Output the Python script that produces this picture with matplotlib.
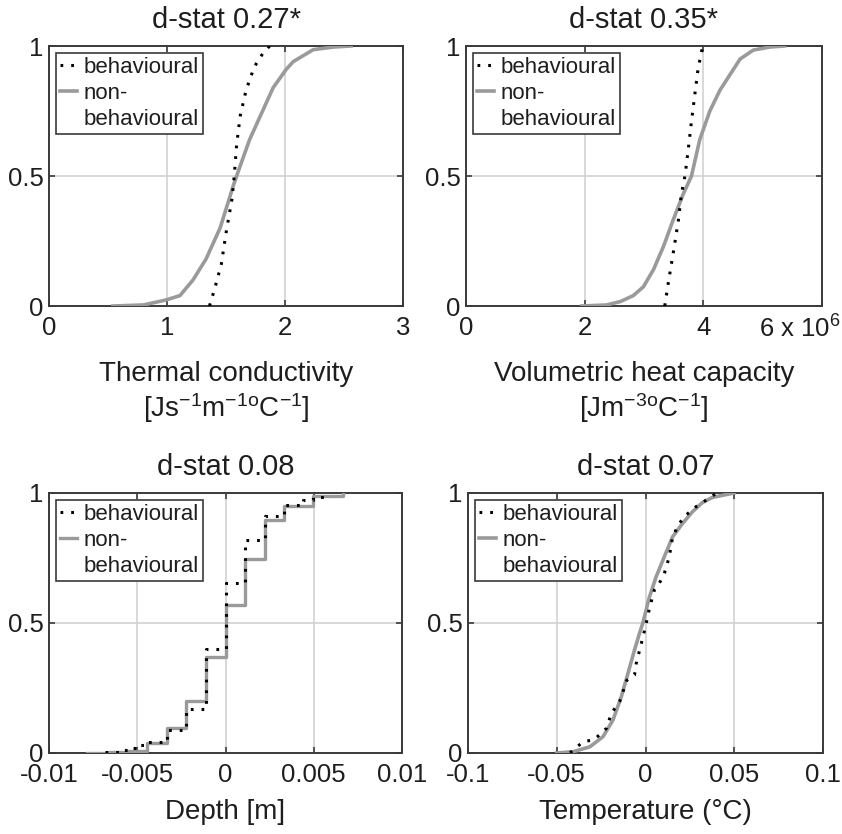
import numpy as np
import matplotlib
matplotlib.use("Agg")
import matplotlib.pyplot as plt
from matplotlib.transforms import ScaledTranslation
from matplotlib.lines import Line2D

plt.rcParams['font.family'] = ['Liberation Sans', 'DejaVu Sans']
plt.rcParams['mathtext.fontset'] = 'custom'
plt.rcParams['mathtext.rm'] = 'Liberation Sans'
plt.rcParams['mathtext.it'] = 'Liberation Sans:italic'
plt.rcParams['mathtext.bf'] = 'Liberation Sans:bold'

# ---------------- data ----------------
titles = ["d-stat 0.27*", "d-stat 0.35*", "d-stat 0.08", "d-stat 0.07"]
xlabels = ["Thermal conductivity\n[Js$^{\\mathregular{-1}}$m$^{\\mathregular{-1o}}$C$^{\\mathregular{-1}}$]",
           "Volumetric heat capacity\n[Jm$^{\\mathregular{-3o}}$C$^{\\mathregular{-1}}$]",
           "Depth [m]",
           "Temperature (\u00b0C)"]
legend_labels = ["behavioural", "non-", "behavioural"]

# Thermal conductivity
tc_non_x = [0.54, 0.80, 0.99, 1.11, 1.22, 1.33, 1.45, 1.56, 1.59, 1.70, 1.81, 1.90, 2.01, 2.07, 2.24, 2.41, 2.56]
tc_non_y = [0.0, 0.004, 0.023, 0.04, 0.10, 0.18, 0.30, 0.46, 0.50, 0.64, 0.75, 0.84, 0.91, 0.94, 0.986, 0.996, 1.0]
tc_beh_x = [1.36, 1.40, 1.46, 1.50, 1.55, 1.57, 1.59, 1.62, 1.67, 1.74, 1.81, 1.87]
tc_beh_y = [0.0, 0.06, 0.16, 0.28, 0.41, 0.50, 0.62, 0.73, 0.83, 0.92, 0.97, 1.0]

# Volumetric heat capacity (x 10^6)
vh_non_x = [1.95, 2.37, 2.60, 2.82, 2.99, 3.16, 3.33, 3.49, 3.66, 3.80, 3.94, 4.11, 4.28, 4.45, 4.62, 4.84, 5.12, 5.37]
vh_non_y = [0.0, 0.004, 0.017, 0.04, 0.074, 0.14, 0.23, 0.33, 0.43, 0.50, 0.64, 0.75, 0.83, 0.89, 0.95, 0.984, 0.996, 1.0]
vh_beh_x = [3.35, 3.41, 3.49, 3.58, 3.63, 3.69, 3.75, 3.80, 3.86, 3.91, 3.97, 4.00]
vh_beh_y = [0.0, 0.09, 0.20, 0.33, 0.43, 0.50, 0.61, 0.71, 0.82, 0.91, 0.98, 1.0]

# Depth (step CDFs)
dp_non_x = [-0.00787, -0.0066, -0.00551, -0.00447, -0.00334, -0.00225, -0.00113, 0.0, 0.00109, 0.00223, 0.0033, 0.00496, 0.00664]
dp_non_y = [0.0, 0.003, 0.009, 0.037, 0.095, 0.201, 0.371, 0.569, 0.745, 0.896, 0.95, 0.988, 1.0]
dp_beh_x = [-0.0068, -0.0060, -0.0055, -0.0050, -0.00447, -0.00334, -0.00225, -0.00113, 0.0, 0.00109, 0.00223, 0.0033, 0.0044, 0.00496, 0.0057]
dp_beh_y = [0.005, 0.012, 0.02, 0.03, 0.042, 0.09, 0.168, 0.40, 0.655, 0.82, 0.91, 0.955, 0.975, 0.986, 1.0]

# Temperature
tp_non_x = [-0.050, -0.0407, -0.0313, -0.0239, -0.0183, -0.0136, -0.0099, -0.0062, -0.0034, -0.0015, 0.0022, 0.0060, 0.0106, 0.0153, 0.0209, 0.0265, 0.0320, 0.0377, 0.0498]
tp_non_y = [0.0, 0.005, 0.024, 0.063, 0.127, 0.217, 0.306, 0.396, 0.46, 0.50, 0.60, 0.678, 0.755, 0.832, 0.883, 0.928, 0.963, 0.983, 1.0]
tp_beh_x = [-0.0425, -0.035, -0.0295, -0.0258, -0.022, -0.0192, -0.0146, -0.0105, -0.0062, -0.0052, -0.0024, 0.0, 0.0022, 0.005, 0.0078, 0.0106, 0.0134, 0.0153, 0.019, 0.0228, 0.0284, 0.0377, 0.040]
tp_beh_y = [0.001, 0.044, 0.05, 0.07, 0.095, 0.153, 0.197, 0.28, 0.30, 0.345, 0.42, 0.486, 0.556, 0.627, 0.653, 0.69, 0.755, 0.832, 0.883, 0.915, 0.947, 0.988, 1.0]

xlims = [(0, 3), (0, 6), (-0.01, 0.01), (-0.1, 0.1)]
xticks = [[0, 1, 2, 3], [0, 2, 4, 6], [-0.01, -0.005, 0, 0.005, 0.01], [-0.1, -0.05, 0, 0.05, 0.1]]
xticklabels = [["0", "1", "2", "3"], ["0", "2", "4", "6 x 10$^{\\mathregular{6}}$"],
               ["-0.01", "-0.005", "0", "0.005", "0.01"], ["-0.1", "-0.05", "0", "0.05", "0.1"]]
yticks = [0, 0.5, 1]
yticklabels = ["0", "0.5", "1"]

series = [
    (tc_beh_x, tc_beh_y, tc_non_x, tc_non_y, False),
    (vh_beh_x, vh_beh_y, vh_non_x, vh_non_y, False),
    (dp_beh_x, dp_beh_y, dp_non_x, dp_non_y, True),
    (tp_beh_x, tp_beh_y, tp_non_x, tp_non_y, False),
]

# ---------------- figure ----------------
W, H = 842, 834
fig = plt.figure(figsize=(W / 100, H / 100), dpi=100)
# axes boxes in pixels: left, top, right, bottom
boxes = [(49, 46, 403, 306), (466, 46, 822, 306), (49, 493, 402, 753), (468, 493, 823, 753)]
label_y = [-0.212, -0.212, -0.178, -0.178]

frame_col = '#3a3a3a'
text_col = '#1e1e1e'
gray_col = '#9a9a9a'
dot_style = (0, (0.9, 2.6))

for i, (l, t, r, b) in enumerate(boxes):
    ax = fig.add_axes([l / W, (H - b) / H, (r - l) / W, (b - t) / H])
    bx, by, nx, ny, step = series[i]
    if step:
        h2, = ax.step(nx, ny, where='post', color=gray_col, lw=2.4, zorder=3)
        h1, = ax.step(bx, by, where='post', color='black', lw=2.2, zorder=4,
                      linestyle=dot_style)
    else:
        h2, = ax.plot(nx, ny, color=gray_col, lw=2.6, zorder=3)
        h1, = ax.plot(bx, by, color='black', lw=2.2, zorder=4,
                      linestyle=dot_style)
    ax.set_xlim(*xlims[i])
    ax.set_ylim(0, 1)
    ax.set_xticks(xticks[i])
    ax.set_xticklabels(xticklabels[i])
    ax.set_yticks(yticks)
    ax.set_yticklabels(yticklabels)
    ax.grid(True, color='#d2d2d2', lw=1.2, zorder=0)
    ax.set_axisbelow(True)
    ax.tick_params(direction='in', length=4, width=1.2, color=frame_col,
                   top=True, right=True, labelsize=18.5, labelcolor=text_col)
    ax.tick_params(axis='x', pad=7)
    ax.tick_params(axis='y', pad=4)
    for sp in ax.spines.values():
        sp.set_color(frame_col)
        sp.set_linewidth(1.4)
    ax.set_title(titles[i], fontsize=21, color=text_col, pad=13)
    ax.set_xlabel(xlabels[i], fontsize=20, color=text_col, linespacing=1.15)
    ax.xaxis.set_label_coords(0.5, label_y[i])
    blank = Line2D([], [], color='none')
    leg = ax.legend([h1, h2, blank], legend_labels, loc='upper left', bbox_to_anchor=(0.0, 1.0),
                    borderaxespad=0.3, fontsize=16, handlelength=0.75, handletextpad=0.3,
                    labelspacing=0.22, borderpad=0.2, fancybox=False, framealpha=1,
                    edgecolor=frame_col)
    leg.get_frame().set_linewidth(1.2)
    for txt in leg.get_texts():
        txt.set_color(text_col)
    if i == 1:
        lab = ax.get_xticklabels()[-1]
        lab.set_transform(lab.get_transform() + ScaledTranslation(-0.22, 0, fig.dpi_scale_trans))

fig.savefig('out.png', dpi=100)
